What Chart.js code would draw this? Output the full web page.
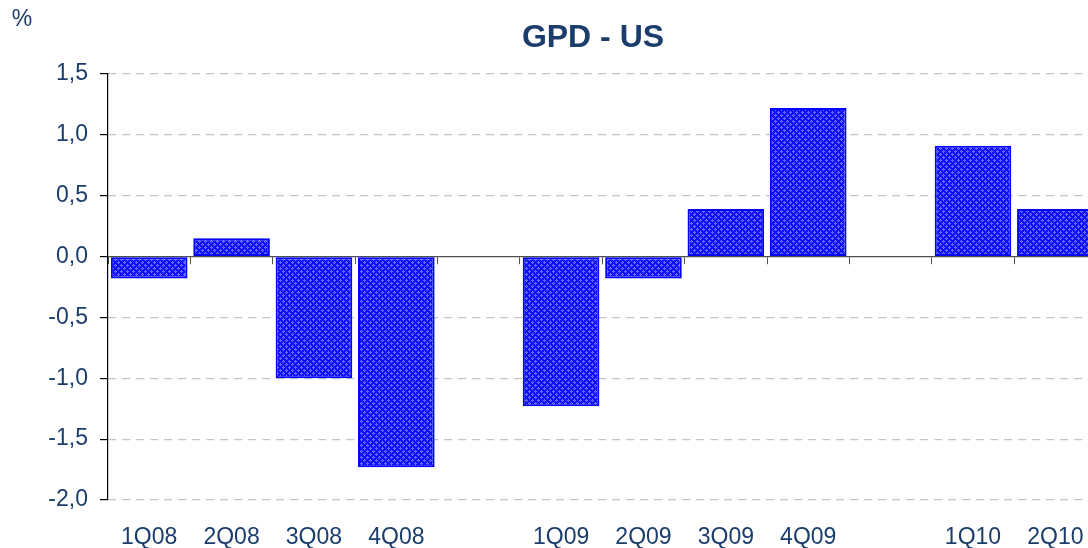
<!DOCTYPE html>
<html>
<head>
<meta charset="utf-8">
<script src="https://cdn.jsdelivr.net/npm/chart.js@4/dist/chart.umd.min.js"></script>
<style>
  body { margin: 0; overflow: hidden; background: #fff; }
  #wrap { width: 1110px; height: 548px; }
</style>
</head>
<body>
<div id="wrap"><canvas id="gdpChart" width="1110" height="548"></canvas></div>
<script>
// quarters, blanks are the empty slots between years
const quarters = ['1Q08', '2Q08', '3Q08', '4Q08', '', '1Q09', '2Q09', '3Q09', '4Q09', '', '1Q10', '2Q10']
const gdpChange = [-0.18, 0.15, -1.00, -1.73, null, -1.23, -0.18, 0.39, 1.22, null, 0.91, 0.39]
const yTicks = [-2.0, -1.5, -1.0, -0.5, 0.0, 0.5, 1.0, 1.5]

const navy = '#1a3d6c'
const fontFamily = "Arial, 'Liberation Sans', sans-serif"

// cross hatch fill like the excel pattern
function hatchPattern() {
    const c = document.createElement('canvas')
    c.width = 6
    c.height = 6
    const g = c.getContext('2d')
    g.fillStyle = '#1010ff'
    g.fillRect(0, 0, 6, 6)
    g.fillStyle = '#7a7aff'
    // small diamonds
    const pts = [[1, 0], [0, 1], [2, 1], [1, 2], [4, 3], [3, 4], [5, 4], [4, 5]]
    pts.forEach(p => g.fillRect(p[0], p[1], 1, 1))
    g.fillStyle = '#4646ff'
    g.fillRect(1, 1, 1, 1)
    g.fillRect(4, 4, 1, 1)
    return g.createPattern(c, 'repeat')
}

const textPlugin = {
    id: 'textPlugin',
    afterDraw(chart) {
        const ctx = chart.ctx
        ctx.save()
        ctx.fillStyle = navy
        ctx.textAlign = 'center'
        ctx.textBaseline = 'middle'
        ctx.font = 'bold 32px ' + fontFamily
        ctx.fillText('GPD - US', 593, 38)
        ctx.font = '23px ' + fontFamily
        ctx.fillText('%', 22, 20)
        ctx.restore()
    }
}

const data = {
    labels: quarters,
    datasets: [{
        label: 'GPD - US',
        data: gdpChange,
        backgroundColor: hatchPattern(),
        borderColor: '#0000ff',
        borderWidth: 2,
        borderSkipped: false,
        categoryPercentage: 1.0,
        barPercentage: 0.93,
        xAxisID: 'x',
        yAxisID: 'y'
    }]
}

const config = {
    type: 'bar',
    data,
    options: {
        responsive: false,
        animation: false,
        layout: { padding: { left: 49, top: 74, right: 12, bottom: 0 } },
        plugins: {
            legend: { display: false },
            tooltip: { enabled: false },
            title: { display: false }
        },
        scales: {
            x: {
                type: 'category',
                position: { y: 0 },
                offset: true,
                ticks: { display: false },
                grid: {
                    offset: true,
                    drawOnChartArea: false,
                    drawTicks: true,
                    tickLength: 7,
                    tickColor: '#555555',
                    tickWidth: 1
                },
                border: { color: '#505050', width: 1.2 }
            },
            x2: {
                type: 'category',
                labels: quarters,
                position: 'bottom',
                offset: true,
                grid: { display: false, drawTicks: false },
                border: { display: false },
                ticks: {
                    color: navy,
                    font: { family: fontFamily, size: 23, lineHeight: 1 },
                    padding: 26,
                    maxRotation: 0,
                    autoSkip: false
                },
                afterFit(scale) {
                    scale.height = 48
                }
            },
            y: {
                min: -2,
                max: 1.5,
                afterBuildTicks(scale) {
                    scale.ticks = yTicks.map(v => ({ value: v }))
                },
                afterFit(scale) {
                    scale.width = 59
                },
                ticks: {
                    color: navy,
                    font: { family: fontFamily, size: 23 },
                    padding: 12,
                    callback: v => Number(v).toFixed(1).replace('.', ',')
                },
                grid: {
                    color: ctx => (ctx.tick && ctx.tick.value == 0) ? 'rgba(0,0,0,0)' : '#c4c4c4',
                    lineWidth: 1.2,
                    tickLength: 8,
                    tickColor: '#000000',
                    tickBorderDash: [],
                    tickWidth: 1.2
                },
                border: { color: '#000000', width: 1.2, dash: [8, 6] }
            }
        }
    },
    plugins: [textPlugin]
}

var myChart = new Chart(document.getElementById('gdpChart'), config)
</script>
</body>
</html>
